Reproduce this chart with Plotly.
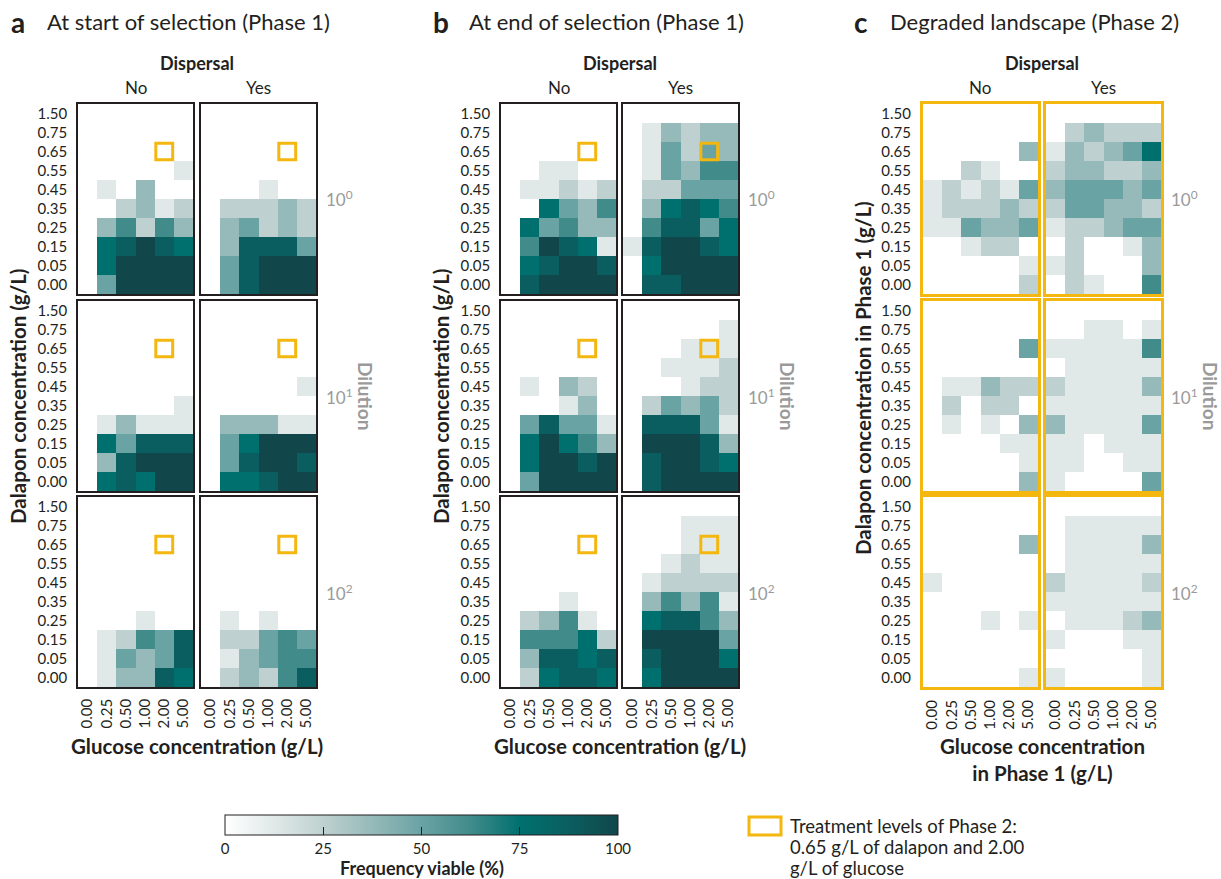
import plotly.graph_objects as go

W, H = 1221, 879

glucose = ["0.00", "0.25", "0.50", "1.00", "2.00", "5.00"]
dalapon = ["1.50", "0.75", "0.65", "0.55", "0.45", "0.35", "0.25", "0.15", "0.05", "0.00"]  # top -> bottom
dilution_labels = ["10<sup>0</sup>", "10<sup>1</sup>", "10<sup>2</sup>"]
cbar_ticks = [0, 25, 50, 75, 100]
legend_lines = ["Treatment levels of Phase 2:", "0.65 g/L of dalapon and 2.00", "g/L of glucose"]

# Frequency viable (%) ; rows top (1.50) -> bottom (0.00), columns glucose 0.00 -> 5.00
a_no_d0 = [[0,0,0,0,0,0],[0,0,0,0,0,0],[0,0,0,0,0,0],[0,0,0,0,0,12.5],[0,12.5,0,37.5,0,0],
           [0,0,25,37.5,12.5,25],[0,37.5,62.5,25,62.5,37.5],[0,75,87.5,100,87.5,75],
           [0,75,100,100,100,100],[0,50,100,100,100,100]]
a_yes_d0 = [[0,0,0,0,0,0],[0,0,0,0,0,0],[0,0,0,0,0,0],[0,0,0,0,0,0],[0,0,0,12.5,0,0],
            [0,25,25,25,37.5,25],[0,37.5,50,25,37.5,25],[0,37.5,87.5,87.5,87.5,50],
            [0,50,87.5,100,100,100],[0,50,87.5,100,100,100]]
a_no_d1 = [[0,0,0,0,0,0],[0,0,0,0,0,0],[0,0,0,0,0,0],[0,0,0,0,0,0],[0,0,0,0,0,0],
           [0,0,0,0,0,12.5],[0,12.5,37.5,12.5,12.5,12.5],[0,75,50,87.5,87.5,87.5],
           [0,37.5,87.5,100,100,100],[0,75,87.5,75,100,100]]
a_yes_d1 = [[0,0,0,0,0,0],[0,0,0,0,0,0],[0,0,0,0,0,0],[0,0,0,0,0,0],[0,0,0,0,0,12.5],
            [0,0,0,0,0,0],[0,37.5,37.5,37.5,12.5,12.5],[0,50,75,100,100,100],
            [0,50,87.5,100,100,87.5],[0,75,75,87.5,100,100]]
a_no_d2 = [[0,0,0,0,0,0],[0,0,0,0,0,0],[0,0,0,0,0,0],[0,0,0,0,0,0],[0,0,0,0,0,0],
           [0,0,0,0,0,0],[0,0,0,12.5,0,0],[0,12.5,25,62.5,50,87.5],
           [0,12.5,50,37.5,50,87.5],[0,12.5,37.5,37.5,87.5,75]]
a_yes_d2 = [[0,0,0,0,0,0],[0,0,0,0,0,0],[0,0,0,0,0,0],[0,0,0,0,0,0],[0,0,0,0,0,0],
            [0,0,0,0,0,0],[0,12.5,0,12.5,0,0],[0,25,25,50,62.5,50],
            [0,12.5,37.5,50,62.5,62.5],[0,25,37.5,25,62.5,87.5]]

b_no_d0 = [[0,0,0,0,0,0],[0,0,0,0,0,0],[0,0,0,0,0,0],[0,0,12.5,12.5,0,0],[0,12.5,12.5,25,12.5,25],
           [0,0,75,50,37.5,62.5],[0,75,50,62.5,37.5,37.5],[0,62.5,100,87.5,75,12.5],
           [0,75,87.5,100,100,87.5],[0,87.5,100,100,100,100]]
b_yes_d0 = [[0,0,0,0,0,0],[0,12.5,37.5,25,37.5,37.5],[0,12.5,50,25,50,37.5],[0,12.5,50,37.5,62.5,62.5],
            [0,25,25,50,50,50],[0,37.5,75,87.5,75,62.5],[0,62.5,87.5,87.5,50,75],
            [12.5,87.5,100,100,87.5,75],[0,75,100,100,100,100],[0,87.5,87.5,100,100,100]]
b_no_d1 = [[0,0,0,0,0,0],[0,0,0,0,0,0],[0,0,0,0,0,0],[0,0,0,0,0,0],[0,12.5,0,37.5,25,0],
           [0,0,0,12.5,37.5,0],[0,50,87.5,50,50,12.5],[0,75,100,75,62.5,37.5],
           [0,75,100,100,87.5,100],[0,50,100,100,100,100]]
b_yes_d1 = [[0,0,0,0,0,0],[0,0,0,0,0,12.5],[0,0,0,12.5,12.5,12.5],[0,0,12.5,12.5,12.5,25],
            [0,0,0,12.5,25,25],[0,25,50,37.5,50,25],[0,87.5,87.5,87.5,50,12.5],
            [0,100,100,100,87.5,37.5],[0,87.5,100,100,87.5,75],[0,87.5,100,100,100,100]]
b_no_d2 = [[0,0,0,0,0,0],[0,0,0,0,0,0],[0,0,0,0,0,0],[0,0,0,0,0,0],[0,0,0,0,0,0],
           [0,0,0,12.5,0,0],[0,25,37.5,62.5,12.5,0],[0,62.5,62.5,62.5,75,25],
           [0,37.5,87.5,87.5,75,87.5],[0,25,75,87.5,87.5,75]]
b_yes_d2 = [[0,0,0,0,0,0],[0,0,0,12.5,12.5,12.5],[0,0,0,12.5,12.5,12.5],[0,0,12.5,25,12.5,12.5],
            [0,12.5,25,25,25,25],[0,37.5,62.5,37.5,62.5,12.5],[0,75,87.5,87.5,62.5,37.5],
            [0,100,100,100,100,50],[0,87.5,100,100,100,75],[0,75,100,100,100,100]]

c_no_d0 = [[0,0,0,0,0,0],[0,0,0,0,0,0],[0,0,0,0,0,37.5],[0,0,25,12.5,0,0],
           [12.5,25,12.5,25,12.5,50],[12.5,25,25,25,37.5,25],[12.5,12.5,50,37.5,37.5,50],
           [0,0,12.5,25,25,0],[0,0,0,0,0,12.5],[0,0,0,0,0,25]]
c_yes_d0 = [[0,0,0,0,0,0],[0,25,37.5,25,25,25],[12.5,37.5,25,37.5,50,75],[25,37.5,37.5,25,25,37.5],
            [37.5,50,50,50,37.5,50],[25,50,50,37.5,37.5,25],[12.5,25,25,37.5,50,50],
            [0,25,0,0,12.5,37.5],[12.5,25,0,0,0,37.5],[0,25,12.5,0,0,62.5]]
c_no_d1 = [[0,0,0,0,0,0],[0,0,0,0,0,0],[0,0,0,0,0,50],[0,0,0,0,0,0],
           [0,12.5,12.5,37.5,25,25],[0,25,0,25,25,0],[0,12.5,0,12.5,0,37.5],
           [0,0,0,0,12.5,12.5],[0,0,0,0,0,12.5],[0,0,0,0,0,37.5]]
c_yes_d1 = [[0,0,0,0,0,0],[0,0,12.5,12.5,0,12.5],[12.5,12.5,12.5,12.5,12.5,62.5],
            [0,12.5,12.5,12.5,12.5,12.5],[25,12.5,12.5,12.5,12.5,37.5],[12.5,12.5,12.5,12.5,12.5,12.5],
            [37.5,12.5,12.5,12.5,12.5,50],[12.5,12.5,0,12.5,12.5,12.5],[12.5,12.5,0,0,12.5,12.5],
            [12.5,0,0,0,0,50]]
c_no_d2 = [[0,0,0,0,0,0],[0,0,0,0,0,0],[0,0,0,0,0,37.5],[0,0,0,0,0,0],[12.5,0,0,0,0,0],
           [0,0,0,0,0,0],[0,0,0,12.5,0,12.5],[0,0,0,0,0,0],[0,0,0,0,0,0],[0,0,0,0,0,12.5]]
c_yes_d2 = [[0,0,0,0,0,0],[0,12.5,12.5,12.5,12.5,12.5],[0,12.5,12.5,12.5,12.5,37.5],
            [0,12.5,12.5,12.5,12.5,12.5],[25,12.5,12.5,12.5,12.5,25],[12.5,12.5,12.5,12.5,12.5,12.5],
            [0,12.5,12.5,12.5,25,37.5],[12.5,0,0,0,12.5,12.5],[0,0,0,0,0,12.5],[12.5,0,0,0,0,12.5]]

sections = {
    "a": [[a_no_d0, a_yes_d0], [a_no_d1, a_yes_d1], [a_no_d2, a_yes_d2]],
    "b": [[b_no_d0, b_yes_d0], [b_no_d1, b_yes_d1], [b_no_d2, b_yes_d2]],
    "c": [[c_no_d0, c_yes_d0], [c_no_d1, c_yes_d1], [c_no_d2, c_yes_d2]],
}
section_titles = {"a": "At start of selection (Phase 1)", "b": "At end of selection (Phase 1)",
                  "c": "Degraded landscape (Phase 2)"}
treat_glucose, treat_dalapon = "2.00", "0.65"

# ---------------- layout geometry (pixels) ----------------
panel_x = {"a": [(78, 193), (201, 316)], "b": [(501, 616), (623, 738)], "c": [(923, 1038), (1046, 1161)]}
panel_y = [(104, 294), (301, 491), (497, 687)]

colorscale = [[0.0, "#FFFFFF"], [0.125, "#E0E9E8"], [0.25, "#BED1D0"], [0.375, "#96B9B9"],
              [0.5, "#6AA3A4"], [0.625, "#418B8B"], [0.75, "#00706F"], [0.875, "#0B5E5F"], [1.0, "#11474B"]]
YEL = "#F4B70F"
GRAY = "#9A9A9A"
FONT = "Lato"
TXT = "#231F20"

def X(px):
    return px / W

def Y(py):
    return 1 - py / H

fig = go.Figure()
layout = {}
shapes = []
annotations = []
k = 0
for s, grid in sections.items():
    for r in range(3):
        for d in range(2):
            k += 1
            z = grid[r][d]
            xs = list(range(len(glucose)))
            ys = list(range(len(dalapon)))
            tr = go.Heatmap(z=z, x=xs, y=ys, colorscale=colorscale, zmin=0, zmax=100,
                            showscale=False, xaxis=f"x{k}", yaxis=f"y{k}", hoverinfo="z")
            if k == 1:
                tr.update(showscale=True, colorbar=dict(
                    orientation="h", xref="paper", yref="paper",
                    x=X((225 + 618) / 2), xanchor="center", y=Y(815), yanchor="top",
                    lenmode="pixels", len=393, thickness=20, xpad=0, ypad=0,
                    outlinewidth=1, outlinecolor="#231F20",
                    tickvals=cbar_ticks, ticks="inside", ticklen=8, tickcolor="#231F20",
                    tickfont=dict(family=FONT, size=15, color=TXT)))
            fig.add_trace(tr)
            x0, x1 = panel_x[s][d]
            y0, y1 = panel_y[r]
            is_c = s == "c"
            lc = YEL if is_c else "#231F20"
            lw = 3 if is_c else 1.5
            layout[f"xaxis{k}"] = dict(
                domain=[X(x0), X(x1)], anchor=f"y{k}", range=[-0.5, len(glucose) - 0.5],
                showgrid=False, zeroline=False, showline=True, mirror=True, linecolor=lc, linewidth=lw,
                tickvals=xs, ticktext=glucose, showticklabels=(r == 2), tickangle=-90, ticks="",
                ticklabelstandoff=4, tickfont=dict(family=FONT, size=15, color=TXT), fixedrange=True)
            layout[f"yaxis{k}"] = dict(
                domain=[Y(y1), Y(y0)], anchor=f"x{k}", range=[len(dalapon) - 0.5, -0.5],
                showgrid=False, zeroline=False, showline=True, mirror=True, linecolor=lc, linewidth=lw,
                tickvals=ys, ticktext=dalapon, showticklabels=(d == 0), ticks="",
                ticklabelstandoff=6, tickfont=dict(family=FONT, size=15, color=TXT), fixedrange=True)
            if not is_c:
                gi = glucose.index(treat_glucose)
                di = dalapon.index(treat_dalapon)
                shapes.append(dict(type="rect", xref=f"x{k}", yref=f"y{k}",
                                   x0=gi - 0.44, x1=gi + 0.44, y0=di - 0.44, y1=di + 0.44,
                                   line=dict(color=YEL, width=3)))

    # section texts
    sx0 = panel_x[s][0][0]
    sx1 = panel_x[s][1][1]
    cx = (sx0 + sx1) / 2
    lab_x = {"a": 9, "b": 431, "c": 852}[s]
    annotations.append(dict(x=X(lab_x), y=Y(22), xref="paper", yref="paper", text=f"<b>{s}</b>",
                            showarrow=False, xanchor="left", yanchor="middle",
                            font=dict(family=FONT, size=28, color=TXT)))
    annotations.append(dict(x=X(lab_x + 36), y=Y(22), xref="paper", yref="paper", text=section_titles[s],
                            showarrow=False, xanchor="left", yanchor="middle",
                            font=dict(family=FONT, size=22, color=TXT)))
    annotations.append(dict(x=X(cx), y=Y(63), xref="paper", yref="paper", text="<b>Dispersal</b>",
                            showarrow=False, xanchor="center", yanchor="middle",
                            font=dict(family=FONT, size=18, color=TXT)))
    for d, lab in enumerate(["No", "Yes"]):
        px0, px1 = panel_x[s][d]
        annotations.append(dict(x=X((px0 + px1) / 2), y=Y(88), xref="paper", yref="paper", text=lab,
                                showarrow=False, xanchor="center", yanchor="middle",
                                font=dict(family=FONT, size=17, color=TXT)))
    for r in range(3):
        py0, py1 = panel_y[r]
        annotations.append(dict(x=X(sx1 + 8), y=Y((py0 + py1) / 2), xref="paper", yref="paper",
                                text=dilution_labels[r], showarrow=False, xanchor="left", yanchor="middle",
                                font=dict(family=FONT, size=17, color=GRAY)))
    annotations.append(dict(x=X(sx1 + 50), y=Y(396), xref="paper", yref="paper", text="<b>Dilution</b>",
                            showarrow=False, xanchor="center", yanchor="middle", textangle=90,
                            font=dict(family=FONT, size=19, color=GRAY)))
    if s == "c":
        ytitle = "<b>Dalapon concentration in Phase 1 (g/L)</b>"
        yt_y = 378
        xtitle = "<b>Glucose concentration<br>in Phase 1 (g/L)</b>"
    else:
        ytitle = "<b>Dalapon concentration (g/L)</b>"
        yt_y = 396
        xtitle = "<b>Glucose concentration (g/L)</b>"
    annotations.append(dict(x=X(sx0 - 60), y=Y(yt_y), xref="paper", yref="paper", text=ytitle,
                            showarrow=False, xanchor="center", yanchor="middle", textangle=-90,
                            font=dict(family=FONT, size=20.5, color=TXT)))
    annotations.append(dict(x=X(cx), y=Y(732), xref="paper", yref="paper", text=xtitle,
                            showarrow=False, xanchor="center", yanchor="top",
                            font=dict(family=FONT, size=20.5, color=TXT)))

# colorbar title
annotations.append(dict(x=X((225 + 618) / 2), y=Y(868), xref="paper", yref="paper",
                        text="<b>Frequency viable (%)</b>", showarrow=False, xanchor="center",
                        yanchor="middle", font=dict(family=FONT, size=18, color=TXT)))
# treatment legend
shapes.append(dict(type="rect", xref="paper", yref="paper", x0=X(749), x1=X(781), y0=Y(835), y1=Y(817),
                   line=dict(color=YEL, width=3)))
for i, line in enumerate(legend_lines):
    annotations.append(dict(x=X(788), y=Y(826 + 21 * i), xref="paper", yref="paper",
                            text=line, showarrow=False, xanchor="left", yanchor="middle", align="left",
                            font=dict(family=FONT, size=18.5, color=TXT)))

fig.update_layout(**layout)
fig.update_layout(width=W, height=H, margin=dict(l=0, r=0, t=0, b=0),
                  paper_bgcolor="white", plot_bgcolor="white",
                  shapes=shapes, annotations=annotations, showlegend=False,
                  font=dict(family=FONT, color=TXT))
fig.write_html("out.html", config={"displayModeBar": False},
               post_script="document.body.style.margin='0';document.body.style.overflow='hidden';"
                           "document.documentElement.style.overflow='hidden';")
